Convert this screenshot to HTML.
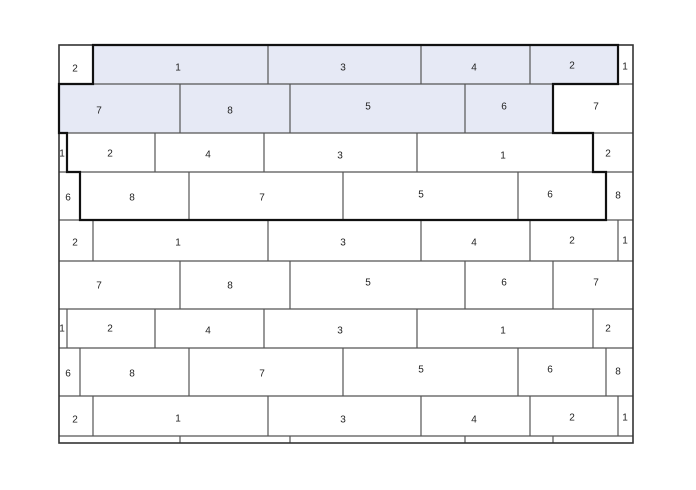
<!DOCTYPE html>
<html><head><meta charset="utf-8"><style>
html,body{margin:0;padding:0;background:#fff;}
svg{display:block;}
text{font-family:"Liberation Sans",sans-serif;font-size:10px;fill:#222;text-anchor:middle;dominant-baseline:middle;}
</style></head><body>
<svg width="696" height="490" viewBox="0 0 696 490">
<!-- shaded region -->
<rect x="93" y="45" width="525" height="39" fill="#e6e9f5"/>
<rect x="59" y="84" width="494" height="49" fill="#e6e9f5"/>
<g stroke="#555" stroke-width="1.2" fill="none">
<!-- horizontal row lines -->
<line x1="59" y1="84" x2="633" y2="84"/>
<line x1="59" y1="133" x2="633" y2="133"/>
<line x1="59" y1="172" x2="633" y2="172"/>
<line x1="59" y1="220" x2="633" y2="220"/>
<line x1="59" y1="261" x2="633" y2="261"/>
<line x1="59" y1="309" x2="633" y2="309"/>
<line x1="59" y1="348" x2="633" y2="348"/>
<line x1="59" y1="396" x2="633" y2="396"/>
<line x1="59" y1="436" x2="633" y2="436"/>
<!-- Row A verticals -->
<path d="M93 45V84M268 45V84M421 45V84M530 45V84M618 45V84"/>
<path d="M93 220V261M268 220V261M421 220V261M530 220V261M618 220V261"/>
<path d="M93 396V436M268 396V436M421 396V436M530 396V436M618 396V436"/>
<!-- Row B verticals -->
<path d="M180 84V133M290 84V133M465 84V133M553 84V133"/>
<path d="M180 261V309M290 261V309M465 261V309M553 261V309"/>
<path d="M180 436V443M290 436V443M465 436V443M553 436V443"/>
<!-- Row C verticals -->
<path d="M67 133V172M155 133V172M264 133V172M417 133V172M593 133V172"/>
<path d="M67 309V348M155 309V348M264 309V348M417 309V348M593 309V348"/>
<!-- Row D verticals -->
<path d="M80 172V220M189 172V220M343 172V220M518 172V220M606 172V220"/>
<path d="M80 348V396M189 348V396M343 348V396M518 348V396M606 348V396"/>
</g>
<rect x="59" y="45" width="574" height="398" fill="none" stroke="#333" stroke-width="1.6"/>
<path d="M93 45H618V84H553V133H593V172H606V220H80V172H67V133H59V84H93Z" fill="none" stroke="#111" stroke-width="2.2"/>
<g>
<!-- Row A labels -->
<text x="75" y="69">2</text><text x="178" y="68">1</text><text x="343" y="68">3</text><text x="474" y="68">4</text><text x="572" y="66">2</text><text x="625" y="67">1</text>
<text x="75" y="243">2</text><text x="178" y="243">1</text><text x="343" y="243">3</text><text x="474" y="243">4</text><text x="572" y="241">2</text><text x="625" y="241">1</text>
<text x="75" y="420">2</text><text x="178" y="419">1</text><text x="343" y="420">3</text><text x="474" y="420">4</text><text x="572" y="418">2</text><text x="625" y="418">1</text>
<!-- Row B labels -->
<text x="99" y="111">7</text><text x="230" y="111">8</text><text x="368" y="107">5</text><text x="504" y="107">6</text><text x="596" y="107">7</text>
<text x="99" y="286">7</text><text x="230" y="286">8</text><text x="368" y="283">5</text><text x="504" y="283">6</text><text x="596" y="283">7</text>
<!-- Row C labels -->
<text x="62" y="154">1</text><text x="110" y="154">2</text><text x="208" y="155">4</text><text x="340" y="156">3</text><text x="503" y="156">1</text><text x="608" y="154">2</text>
<text x="62" y="329">1</text><text x="110" y="329">2</text><text x="208" y="331">4</text><text x="340" y="331">3</text><text x="503" y="331">1</text><text x="608" y="329">2</text>
<!-- Row D labels -->
<text x="68" y="198">6</text><text x="132" y="198">8</text><text x="262" y="198">7</text><text x="421" y="195">5</text><text x="550" y="195">6</text><text x="618" y="196">8</text>
<text x="68" y="374">6</text><text x="132" y="374">8</text><text x="262" y="374">7</text><text x="421" y="370">5</text><text x="550" y="370">6</text><text x="618" y="372">8</text>
</g>
</svg>
</body></html>
